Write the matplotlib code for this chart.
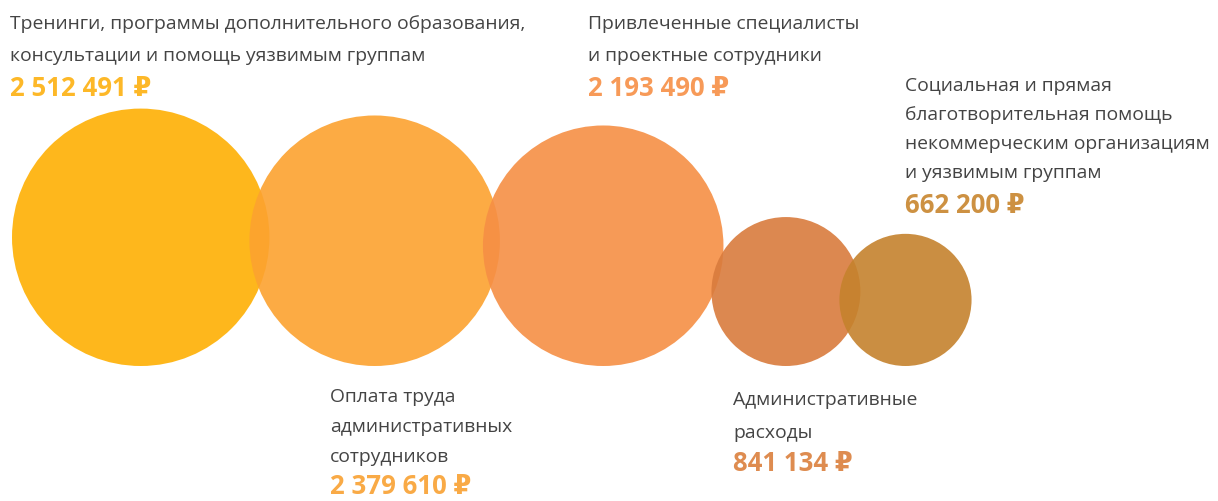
import math
import matplotlib.pyplot as plt
from matplotlib.patches import Circle

# data
labels = [
    ["Тренинги, программы дополнительного образования,",
     "консультации и помощь уязвимым группам"],
    ["Оплата труда", "административных", "сотрудников"],
    ["Привлеченные специалисты", "и проектные сотрудники"],
    ["Административные", "расходы"],
    ["Социальная и прямая", "благотворительная помощь",
     "некоммерческим организациям", "и уязвимым группам"],
]
values = [2512491, 2379610, 2193490, 841134, 662200]
colors = ["#FEB003", "#FCA22F", "#F68F45", "#D97B3D", "#C5822D"]
value_colors = ["#FDB828", "#F9AA46", "#F79A58", "#DE8C50", "#CD9142"]

W, H = 1218, 502
fig = plt.figure(figsize=(W / 100, H / 100), dpi=100)
ax = fig.add_axes([0, 0, 1, 1])
ax.set_xlim(0, W)
ax.set_ylim(H, 0)
ax.set_aspect("equal")
ax.axis("off")

# circle radius ~ sqrt(value), all sitting on one baseline
scale = 0.0812
base_y = 367
overlap = [0, 20, 17, 12, 21]
radii = [scale * math.sqrt(v) for v in values]
xs = []
for i, r in enumerate(radii):
    if i == 0:
        xs.append(12 + r)
    else:
        xs.append(xs[-1] + radii[i - 1] + r - overlap[i])
for cx, r, c in zip(xs, radii, colors):
    ax.add_patch(Circle((cx, base_y - r), r, facecolor=c, edgecolor="none", alpha=0.9))

def fmt(v):
    return "{:,}".format(v).replace(",", " ") + " ₽"

fam = ["Open Sans", "DejaVu Sans"]
# (x, y of first line, line step, gap to value)
spots = [(10, 24, 32, 33), (330, 397, 30, 30), (588, 24, 32, 33),
         (733, 400, 33, 31), (905, 86, 29, 33)]
for i, (tx, ty, step, gap) in enumerate(spots):
    y = ty
    for j, line in enumerate(labels[i]):
        y = ty + j * step
        ax.text(tx, y, line, fontsize=13.9, color="#444444", family=fam,
                va="center", ha="left")
    ax.text(tx, y + gap, fmt(values[i]), fontsize=18.5, color=value_colors[i],
            family=fam, fontweight="bold", va="center", ha="left")

fig.savefig("out.png", dpi=100)
